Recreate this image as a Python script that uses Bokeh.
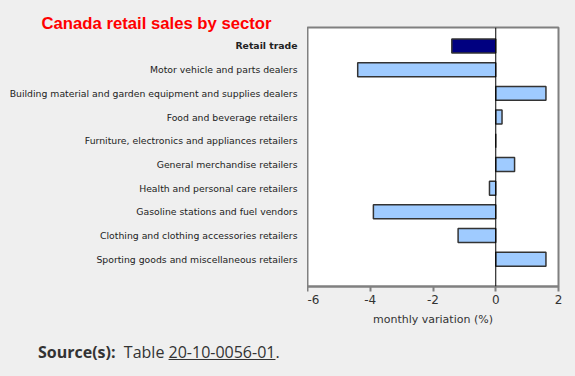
from bokeh.plotting import figure
from bokeh.models import Range1d, FixedTicker, Span, Div, ColumnDataSource
from bokeh.layouts import column, row
from bokeh.core.properties import value
from bokeh.embed import file_html
from bokeh.resources import INLINE

categories = [
    "Retail trade",
    "Motor vehicle and parts dealers",
    "Building material and garden equipment and supplies dealers",
    "Food and beverage retailers",
    "Furniture, electronics and appliances retailers",
    "General merchandise retailers",
    "Health and personal care retailers",
    "Gasoline stations and fuel vendors",
    "Clothing and clothing accessories retailers",
    "Sporting goods and miscellaneous retailers",
]
values = [-1.4, -4.4, 1.6, 0.2, 0.0, 0.6, -0.2, -3.9, -1.2, 1.6]
x_ticks = [-6, -4, -2, 0, 2]
title_text = "Canada retail sales by sector"

BG = "#efefef"
positions = list(range(len(categories)))
colors = ["#000080"] + ["#9fcbff"] * (len(categories) - 1)
styles = ["bold"] + ["normal"] * (len(categories) - 1)

H = 336
TOP, BOTTOM = 27, 50
LEFT_W = 307
yr = Range1d(len(categories) - 1 + 1.15, -0.78)

# main chart
p = figure(width=575 - LEFT_W, height=H, output_backend="svg", toolbar_location=None,
           x_range=Range1d(-6, 2), y_range=yr, title=None,
           min_border_left=0, min_border_right=17, min_border_top=TOP, min_border_bottom=BOTTOM)
p.background_fill_color = "white"
p.border_fill_color = BG
p.outline_line_color = "#808080"
p.outline_line_width = 2
p.xgrid.visible = False
p.ygrid.visible = False
p.yaxis.visible = False

p.hbar(y=positions, right=values, left=0, height=0.59, fill_color=colors,
       line_color="#333333", line_width=1.5)
p.add_layout(Span(location=0, dimension="height", line_color="black", line_width=1))

xa = p.xaxis[0]
xa.ticker = FixedTicker(ticks=x_ticks)
xa.major_label_overrides = {t: str(t) for t in x_ticks}
xa.axis_line_color = "#808080"
xa.axis_line_width = 2
xa.major_tick_line_color = "#808080"
xa.major_tick_line_width = 2
xa.major_tick_in = 0
xa.major_tick_out = 5
xa.minor_tick_line_color = None
xa.major_label_text_font = "DejaVu Sans"
xa.major_label_text_font_size = "12px"
xa.major_label_text_color = "#333333"
xa.major_label_standoff = 3
xa.axis_label = "monthly variation (%)"
xa.axis_label_text_font = "DejaVu Sans"
xa.axis_label_text_font_size = "11px"
xa.axis_label_text_font_style = "normal"
xa.axis_label_text_color = "#333333"
xa.axis_label_standoff = 6

# category labels + title panel
lab = figure(width=LEFT_W, height=H, output_backend="svg", toolbar_location=None,
             x_range=Range1d(0, LEFT_W), y_range=yr,
             title=title_text, x_axis_type=None, y_axis_type=None,
             min_border_left=0, min_border_right=0, min_border_top=TOP, min_border_bottom=BOTTOM)
lab.grid.visible = False
lab.outline_line_color = None
lab.background_fill_color = BG
lab.border_fill_color = BG
lab.title.text_font = "Liberation Sans"
lab.title.text_font_size = "16.7px"
lab.title.text_font_style = "bold"
lab.title.text_color = "#ff0000"
lab.title.align = "left"
lab.title.offset = 41
lab.title.standoff = -11

src_lab = ColumnDataSource(dict(y=positions, text=categories, style=styles))
lab.text(x=LEFT_W - 10, y="y", text="text", source=src_lab, text_align="right",
         text_baseline="middle", text_font=value("DejaVu Sans"), text_font_size="9.3px",
         text_font_style="style", text_color="#222222")

src = Div(text='<b>Source(s):</b>&nbsp; Table <u>20-10-0056-01</u>.',
          width=575, height=40,
          styles={"font-family": "Open Sans", "font-size": "16px", "color": "#333333",
                  "background-color": BG, "padding-left": "33px", "padding-top": "0px",
                  "box-sizing": "border-box"})

layout = column(row(lab, p, spacing=0), src, spacing=0, styles={"background-color": BG})
open("out.html", "w").write(file_html(layout, INLINE))
